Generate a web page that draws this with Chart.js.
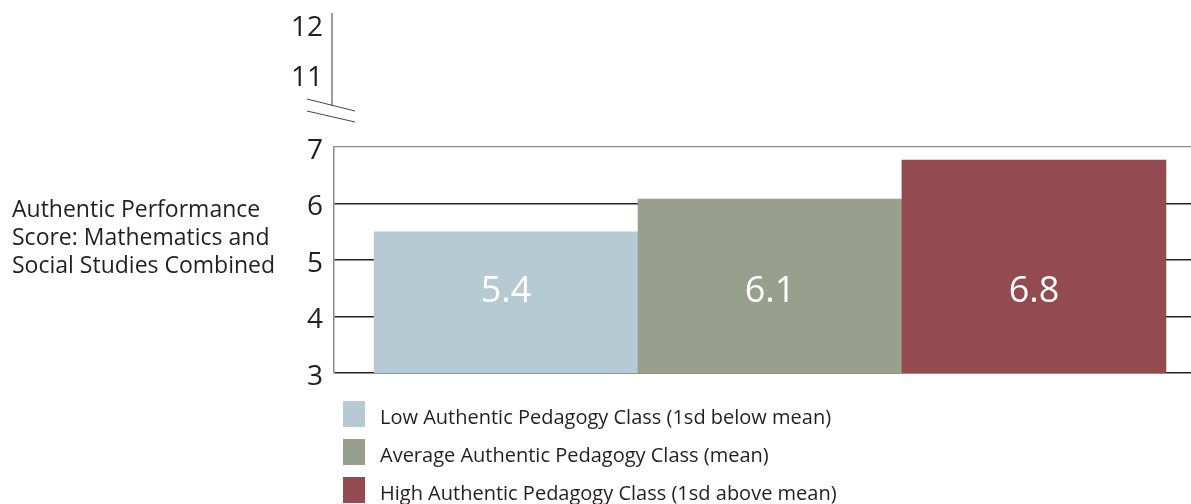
<!DOCTYPE html>
<html>
<head>
<meta charset="utf-8">
<script src="https://cdn.jsdelivr.net/npm/chart.js@4"></script>
<style>
  body { margin: 0; background: #fff; font-family: "Open Sans", sans-serif; color: #231f20; }
  #wrap { position: relative; width: 1191px; height: 504px; overflow: hidden; }
  #chart { position: absolute; left: 0; top: 0; }
  #ytitle { position: absolute; left: 12px; top: 194px; font-size: 23px; line-height: 28px; }
  #legend { position: absolute; left: 343px; top: 401px; }
  .row { display: flex; height: 26px; margin-bottom: 12px; font-size: 20px; line-height: 26px; }
  .sw { width: 22px; height: 26px; margin-right: 15px; }
  .txt { padding-top: 3px; white-space: nowrap; }
</style>
</head>
<body>
<div id="wrap">
  <canvas id="chart" width="1191" height="504"></canvas>
  <div id="ytitle">Authentic Performance<br>Score: Mathematics and<br>Social Studies Combined</div>
  <div id="legend"></div>
</div>
<script>
// ===== DATA =====
const categories = [
    'Low Authentic Pedagogy Class (1sd below mean)',
    'Average Authentic Pedagogy Class (mean)',
    'High Authentic Pedagogy Class (1sd above mean)'
];
const barValues = [5.5, 6.08, 6.77];       // bar heights as drawn
const valueLabels = ['5.4', '6.1', '6.8'];  // printed numbers
const barColors = ['#b6cad4', '#999f8d', '#934b4f'];
const lowerTicks = [3, 4, 5, 6, 7];
const upperTicks = [11, 12];

// ===== PLUGINS =====
// numbers inside the bars
const barText = {
    id: 'barText',
    afterDatasetsDraw(chart) {
        const ctx = chart.ctx;
        const y = chart.scales.y.getPixelForValue(4.44);
        ctx.save();
        ctx.fillStyle = '#ffffff';
        ctx.font = '36px "Open Sans"';
        ctx.textAlign = 'center';
        ctx.textBaseline = 'middle';
        chart.getDatasetMeta(0).data.forEach((bar, i) => {
            ctx.fillText(valueLabels[i], bar.x, y);
        });
        ctx.restore();
    }
};

// upper axis stub with break marks
const axisBreak = {
    id: 'axisBreak',
    afterDraw(chart) {
        const ctx = chart.ctx;
        const s = chart.scales.yTop;
        const x = chart.chartArea.left - 2;
        ctx.save();
        ctx.strokeStyle = '#7a7a7a';
        ctx.lineWidth = 1.5;
        ctx.beginPath();
        ctx.moveTo(x, s.getPixelForValue(12.26));
        ctx.lineTo(x, s.getPixelForValue(10.4));
        ctx.stroke();
        ctx.strokeStyle = '#444';
        ctx.lineWidth = 1;
        ctx.beginPath();
        ctx.moveTo(x - 25, s.getPixelForValue(10.54));
        ctx.lineTo(x + 23, s.getPixelForValue(10.30));
        ctx.moveTo(x - 25, s.getPixelForValue(10.30));
        ctx.lineTo(x + 23, s.getPixelForValue(10.08));
        ctx.stroke();
        ctx.restore();
    }
};

// ===== CHART =====
const tickFont = { family: 'Open Sans', size: 28 };
const fixAxis = s => { s.width = 334; s.paddingTop = 0; s.paddingBottom = 0; };

new Chart(document.getElementById('chart'), {
    type: 'bar',
    data: {
        datasets: [{
            data: barValues.map((v, i) => ({ x: i, y: v })),
            backgroundColor: barColors,
            borderWidth: 0,
            barThickness: 264
        }]
    },
    options: {
        responsive: false,
        animation: false,
        layout: { padding: { top: 13, bottom: 131, left: 0, right: 0 } },
        plugins: { legend: { display: false }, tooltip: { enabled: false } },
        scales: {
            x: {
                type: 'linear',
                display: false,
                offset: false,
                min: -0.652,
                max: 2.595
            },
            y: {
                stack: 'left',
                stackWeight: 226,
                min: 3,
                max: 7,
                afterBuildTicks: s => { s.ticks = lowerTicks.map(v => ({ value: v })); },
                afterFit: fixAxis,
                border: { display: true, color: '#8a8a8a', width: 1.5 },
                grid: {
                    drawTicks: false,
                    color: c => c.tick && c.tick.value === 7 ? '#8a8a8a' : '#222',
                    lineWidth: c => c.tick && c.tick.value === 7 ? 1.2 : 1.6
                },
                ticks: { color: '#231f20', font: tickFont, padding: 11, autoSkip: false, labelOffset: 4 }
            },
            yTop: {
                type: 'linear',
                position: 'left',
                stack: 'left',
                stackWeight: 134,
                min: 9.58,
                max: 12.26,
                afterBuildTicks: s => { s.ticks = upperTicks.map(v => ({ value: v })); },
                afterFit: fixAxis,
                border: { display: false },
                grid: { display: false, drawTicks: false },
                ticks: { color: '#231f20', font: tickFont, padding: 11, autoSkip: false, labelOffset: 2 }
            }
        }
    },
    plugins: [barText, axisBreak]
});

// ===== LEGEND =====
const legend = document.getElementById('legend');
categories.forEach((name, i) => {
    const row = document.createElement('div');
    row.className = 'row';
    row.innerHTML = `<div class="sw" style="background:${barColors[i]}"></div><div class="txt">${name}</div>`;
    legend.appendChild(row);
});
</script>
</body>
</html>
